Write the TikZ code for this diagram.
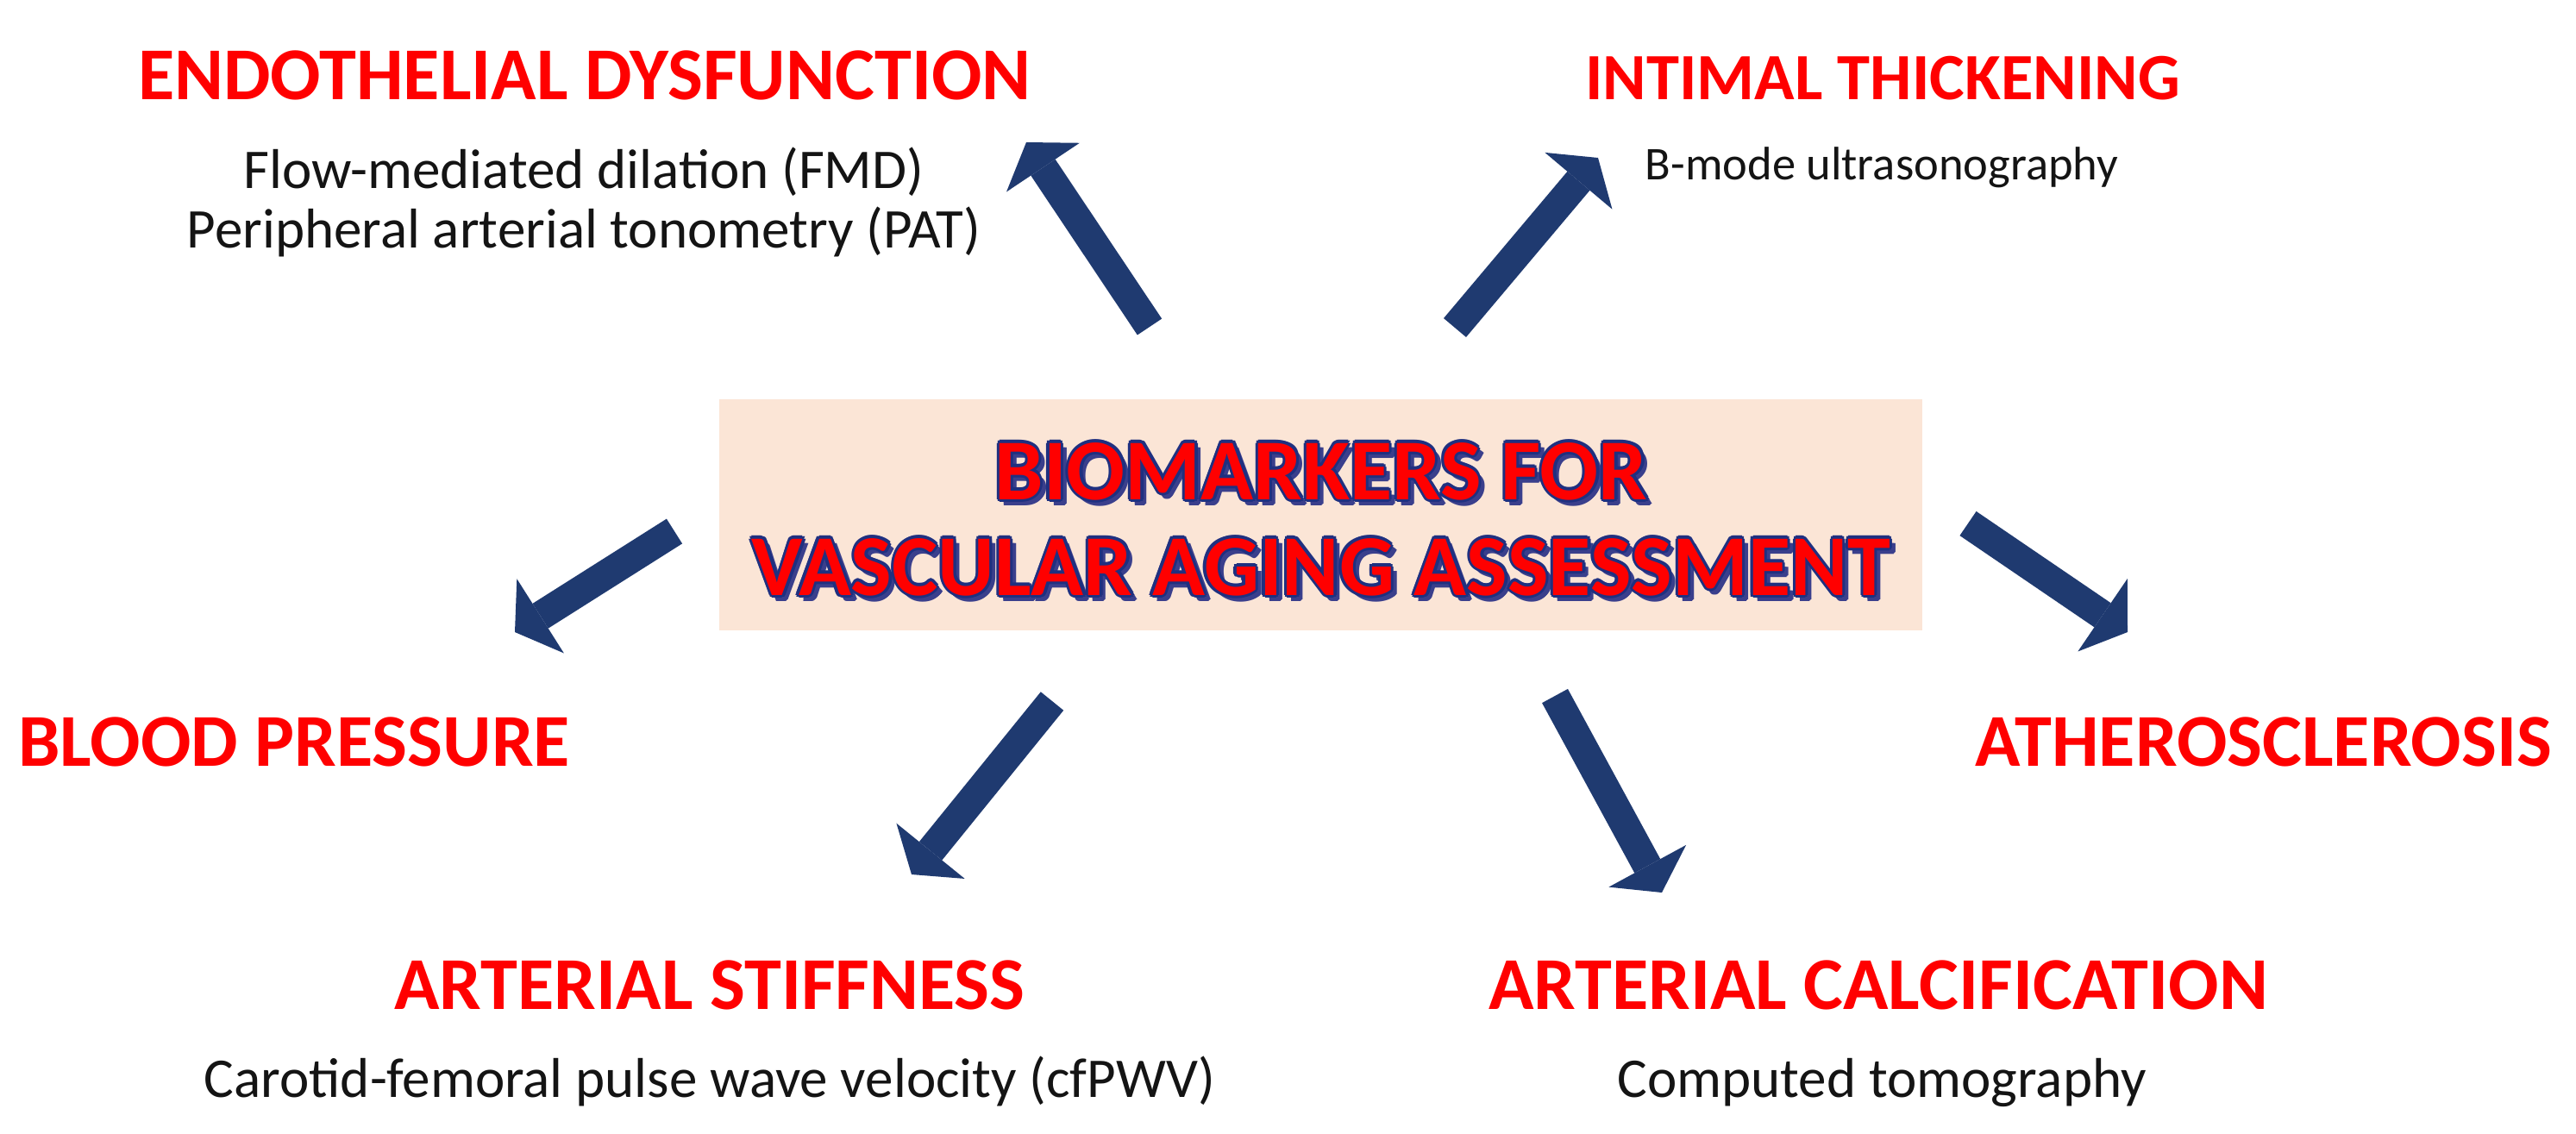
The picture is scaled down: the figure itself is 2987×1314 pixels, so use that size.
\documentclass[tikz,border=0pt]{standalone}
\usepackage{fontspec}
\setmainfont{Carlito}
\usetikzlibrary{arrows.meta}
\definecolor{hred}{HTML}{FF0000}
\definecolor{navy}{HTML}{1F3A70}
\definecolor{boxfill}{HTML}{FBE5D6}
\definecolor{outl}{HTML}{1F3080}
\definecolor{shadowc}{HTML}{3A3F8C}
\definecolor{subtxt}{HTML}{141414}
\begin{document}
\begin{tikzpicture}[x=0.01cm,y=-0.01cm,
  head/.style={font=\bfseries\fontsize{24.6}{29}\selectfont, text=hred, inner sep=0pt, anchor=base},
  sub/.style={font=\fontsize{18.5}{22}\selectfont, text=subtxt, inner sep=0pt, anchor=base},
  ctext/.style={font=\bfseries\fontsize{28.6}{34}\selectfont, inner sep=0pt, anchor=base},
  bigarrow/.style={draw=navy, line width=0.34cm, -{Triangle[width=1.02cm,length=0.35cm,line width=0pt]}}
]
\useasboundingbox (0,0) rectangle (2987,1314);
\fill[white] (0,0) rectangle (2987,1314);

% central box
\node (box) [fill=boxfill, minimum width=13.95cm, minimum height=2.68cm, inner sep=0pt] at (1531.5,597) {};

% central title: shadow, outline, fill
\foreach \dx/\dy [count=\i] in {5/5,6/6,7/5,5/7} {
  \node[ctext, text=shadowc] (bshad\i) at (1532+\dx,579+\dy) {BIOMARKERS FOR};
  \node[ctext, text=shadowc] (vshad\i) at (1532+\dx,690+\dy) {VASCULAR AGING ASSESSMENT};
}
\foreach \dx/\dy [count=\i] in {3.2/0,-3.2/0,0/3.2,0/-3.2,2.3/2.3,-2.3/2.3,2.3/-2.3,-2.3/-2.3} {
  \node[ctext, text=outl] (bout\i) at (1532+\dx,579+\dy) {BIOMARKERS FOR};
  \node[ctext, text=outl] (vout\i) at (1532+\dx,690+\dy) {VASCULAR AGING ASSESSMENT};
}
\node[ctext, text=hred] (bio) at (1532,579) {BIOMARKERS FOR};
\node[ctext, text=hred] (vas) at (1532,690) {VASCULAR AGING ASSESSMENT};

% headings and sub texts
\node[head] (endo) at (678,115) {ENDOTHELIAL DYSFUNCTION};
\node[sub] (fmd) at (677,218) {Flow-mediated dilation (FMD)};
\node[sub] (pat) at (677,287) {Peripheral arterial tonometry (PAT)};

\node[head, font=\bfseries\fontsize{21.8}{26}\selectfont] (intimal) at (2183,115) {INTIMAL THICKENING};
\node[sub, font=\fontsize{15.5}{19}\selectfont] (bmode) at (2182,208) {B-mode ultrasonography};

\node[head] (blood) at (341,888) {BLOOD PRESSURE};
\node[head] (athero) at (2625,888) {ATHEROSCLEROSIS};

\node[head] (stiff) at (823,1170) {ARTERIAL STIFFNESS};
\node[sub] (pwv) at (823,1272) {Carotid-femoral pulse wave velocity (cfPWV)};

\node[head] (calc) at (2178,1170) {ARTERIAL CALCIFICATION};
\node[sub] (ct) at (2182,1272) {Computed tomography};

% arrows
\coordinate (a1s) at (1333,379); \coordinate (a1e) at (1190,165);
\coordinate (a2s) at (1687,380); \coordinate (a2e) at (1853,183);
\coordinate (a3s) at (782,616);  \coordinate (a3e) at (597,733);
\coordinate (a4s) at (2282,607); \coordinate (a4e) at (2467,733);
\coordinate (a5s) at (1220,813); \coordinate (a5e) at (1057,1014);
\coordinate (a6s) at (1803,807); \coordinate (a6e) at (1927,1035);
\draw[bigarrow] (a1s) -- (a1e);
\draw[bigarrow] (a2s) -- (a2e);
\draw[bigarrow] (a3s) -- (a3e);
\draw[bigarrow] (a4s) -- (a4e);
\draw[bigarrow] (a5s) -- (a5e);
\draw[bigarrow] (a6s) -- (a6e);
\end{tikzpicture}
\end{document}
